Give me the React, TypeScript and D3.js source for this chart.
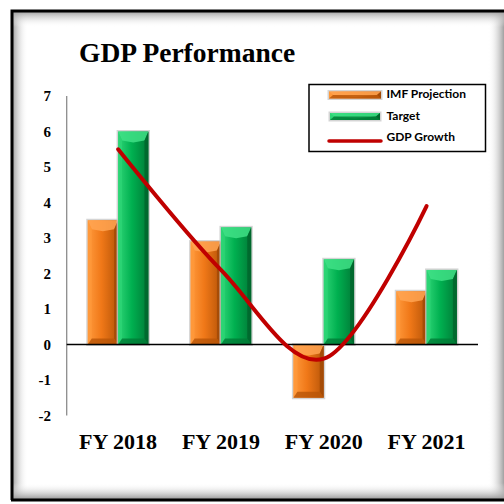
import React from "react";
import * as d3 from "d3";

const categories = ["FY 2018", "FY 2019", "FY 2020", "FY 2021"];
const imfProjection = [3.5, 2.9, -1.5, 1.5];
const target = [6.0, 3.3, 2.4, 2.1];
const gdpGrowth = [5.5, 2.1, -0.4, 3.9];
const yTicks = [-2, -1, 0, 1, 2, 3, 4, 5, 6, 7];
const seriesNames = ["IMF Projection", "Target", "GDP Growth"];

const W = 504;
const H = 504;

const palettes = {
  orange: { face: "#f07818", light: "#ff9a3c", lighter: "#ffa552", dark: "#b85508", darker: "#9a4606" },
  green: { face: "#00b050", light: "#2ed576", lighter: "#3fe086", dark: "#007a36", darker: "#005f2a" },
};

function BevelBar({ x, y, w, h, pal, id }: any) {
  const b = Math.min(w / 2, 9, h / 2);
  const bb = Math.min(6, h / 2);
  const s = 4;
  return (
    <g>
      <rect x={x - 1.5} y={y - 1.5} width={w + 3} height={h + 3} fill="#c9c9c9" opacity={0.8} />
      <rect x={x} y={y} width={w} height={h} fill={`url(#face-${id})`} />
      <polygon points={`${x},${y} ${x + w},${y} ${x + w - s},${y + b} ${x + w / 2},${y + b + 2} ${x + s},${y + b}`} fill={pal.lighter} opacity={0.85} />
      <polygon points={`${x},${y} ${x + s},${y + b} ${x + s},${y + h - bb} ${x},${y + h}`} fill={pal.light} opacity={0.7} />
      <polygon points={`${x + w},${y} ${x + w - s},${y + b} ${x + w - s},${y + h - bb} ${x + w},${y + h}`} fill={pal.darker} opacity={0.7} />
      <polygon points={`${x},${y + h} ${x + s},${y + h - bb} ${x + w - s},${y + h - bb} ${x + w},${y + h}`} fill={pal.dark} opacity={0.8} />
    </g>
  );
}

export default function App() {
  const x0 = d3.scaleBand<string>().domain(categories).range([66.7, 478]).paddingInner(0.41).paddingOuter(0.205);
  const x1 = d3.scaleBand<string>().domain(["imf", "target"]).range([0, x0.bandwidth()]).padding(0);
  const y = d3.scaleLinear().domain([-2, 7]).range([415.5, 96]);

  const linePts: [number, number][] = categories.map((c, i) => [x0(c)! + x0.bandwidth() / 2, y(gdpGrowth[i])]);
  const line = d3.line().curve(d3.curveCatmullRom.alpha(0))(linePts) || "";

  const serif = "'Liberation Serif', 'DejaVu Serif', serif";
  const sans = "Lato, 'Liberation Sans', sans-serif";

  const bar = (c: string, i: number, v: number, key: "imf" | "target") => {
    const bx = x0(c)! + x1(key)!;
    const top = y(Math.max(0, v));
    const bot = y(Math.min(0, v));
    return (
      <BevelBar key={key + i} x={bx} y={top} w={x1.bandwidth()} h={bot - top}
        pal={key === "imf" ? palettes.orange : palettes.green} id={key === "imf" ? "orange" : "green"} />
    );
  };

  return (
    <svg width={W} height={H} style={{ position: "absolute", left: 0, top: 0 }}>
      <defs>
        {(["orange", "green"] as const).map((k) => (
          <linearGradient key={k} id={`face-${k}`} x1="0" x2="1" y1="0" y2="0">
            <stop offset="0%" stopColor={palettes[k].light} />
            <stop offset="45%" stopColor={palettes[k].face} />
            <stop offset="100%" stopColor={palettes[k].dark} />
          </linearGradient>
        ))}
        <linearGradient id="shL" x1="0" x2="1" y1="0" y2="0">
          <stop offset="0%" stopColor="#9a9a9a" />
          <stop offset="100%" stopColor="#ffffff" stopOpacity={0} />
        </linearGradient>
        <linearGradient id="shR" x1="1" x2="0" y1="0" y2="0">
          <stop offset="0%" stopColor="#a0a0a0" />
          <stop offset="100%" stopColor="#ffffff" stopOpacity={0} />
        </linearGradient>
        <linearGradient id="shT" x1="0" x2="0" y1="0" y2="1">
          <stop offset="0%" stopColor="#9a9a9a" />
          <stop offset="100%" stopColor="#ffffff" stopOpacity={0} />
        </linearGradient>
        <linearGradient id="shB" x1="0" x2="0" y1="1" y2="0">
          <stop offset="0%" stopColor="#9a9a9a" />
          <stop offset="100%" stopColor="#ffffff" stopOpacity={0} />
        </linearGradient>
      </defs>
      <rect x={0} y={0} width={W} height={H} fill="#ffffff" />
      <rect x={12} y={11} width={16} height={488} fill="url(#shL)" />
      <rect x={488} y={11} width={16} height={488} fill="url(#shR)" />
      <rect x={12} y={11} width={492} height={16} fill="url(#shT)" />
      <rect x={12} y={483} width={492} height={16} fill="url(#shB)" />
      <path d="M12,500 V11 H504" fill="none" stroke="#000" strokeWidth={3} />
      <line x1={11} x2={504} y1={500} y2={500} stroke="#000" strokeWidth={3} />

      <text x={79} y={62} fontFamily={serif} fontWeight="bold" fontSize={27.5} fill="#000">GDP Performance</text>

      <line x1={66.7} x2={66.7} y1={96} y2={415.5} stroke="#8c8c8c" strokeWidth={1.3} />
      {yTicks.map((t) => (
        <text key={t} x={51} y={y(t)} dy="0.35em" textAnchor="end" fontFamily={serif} fontWeight="bold" fontSize={15} fill="#000">{t}</text>
      ))}

      {categories.map((c, i) => bar(c, i, imfProjection[i], "imf"))}
      {categories.map((c, i) => bar(c, i, target[i], "target"))}

      <line x1={66.7} x2={478} y1={y(0)} y2={y(0)} stroke="#000" strokeWidth={1.5} />

      <path d={line} fill="none" stroke="#c00000" strokeWidth={4} strokeLinecap="round" />

      {categories.map((c) => (
        <text key={c} x={x0(c)! + x0.bandwidth() / 2} y={449} textAnchor="middle" fontFamily={serif} fontWeight="bold" fontSize={22} fill="#000">{c}</text>
      ))}

      <rect x={309} y={84.5} width={176.5} height={67} fill="#fff" stroke="#000" strokeWidth={1.5} />
      <BevelBar x={329} y={91.5} w={52} h={7} pal={palettes.orange} id="orange" />
      <BevelBar x={330} y={113} w={50} h={7} pal={palettes.green} id="green" />
      <line x1={329} x2={381} y1={141} y2={141} stroke="#c00000" strokeWidth={3.5} strokeLinecap="round" />
      {seriesNames.map((s, i) => (
        <text key={s} x={386.5} y={[94, 115.5, 137][i]} dy="0.35em" fontFamily={sans} fontWeight="bold" fontSize={12} fill="#000">{s}</text>
      ))}
    </svg>
  );
}
